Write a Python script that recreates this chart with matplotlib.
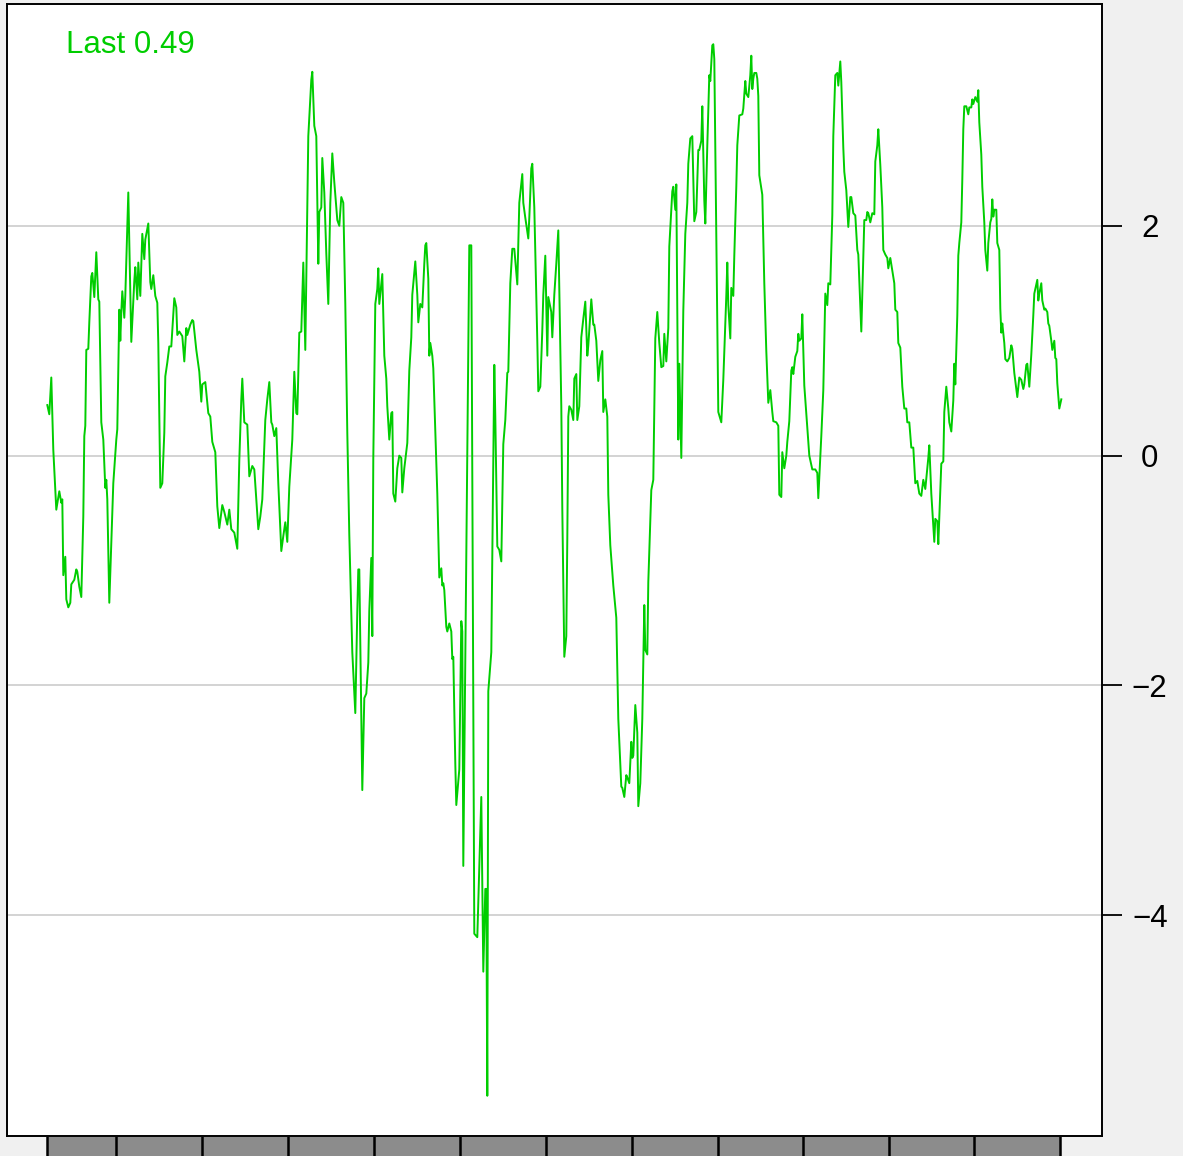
import matplotlib.pyplot as plt

# (step, value) pairs, in order
trace = [
    (0, 0.44), (2, 0.36), (4, 0.68), (6, 0.05), (9, -0.47), (12, -0.31), (14, -0.41), (15, -0.38),
    (16, -1.04), (18, -0.88), (19, -1.25), (21, -1.32), (23, -1.28), (24, -1.12), (27, -1.08),
    (29, -0.99), (30, -1.01), (32, -1.14), (34, -1.23), (36, -0.53), (37, 0.17), (38, 0.26),
    (39, 0.92), (41, 0.93), (42, 1.16), (44, 1.56), (45, 1.59), (47, 1.38), (49, 1.77), (51, 1.36),
    (52, 1.34), (54, 0.29), (56, 0.14), (58, -0.28), (59, -0.21), (60, -0.38), (62, -1.28),
    (66, -0.24), (69, 0.14), (70, 0.23), (72, 1.27), (73, 1.0), (74, 1.25), (75, 1.43), (77, 1.2),
    (78, 1.39), (81, 2.29), (84, 0.99), (87, 1.52), (88, 1.64), (90, 1.36), (91, 1.68), (93, 1.39),
    (95, 1.93), (97, 1.71), (98, 1.88), (101, 2.02), (103, 1.51), (104, 1.45), (106, 1.57),
    (108, 1.39), (110, 1.33), (111, 0.98), (113, -0.28), (115, -0.24), (117, 0.2), (118, 0.69),
    (120, 0.81), (122, 0.95), (124, 0.95), (127, 1.37), (129, 1.29), (130, 1.05), (132, 1.08),
    (135, 1.04), (137, 0.82), (139, 1.11), (140, 1.05), (143, 1.14), (145, 1.18), (146, 1.17),
    (149, 0.92), (152, 0.73), (154, 0.47), (155, 0.62), (158, 0.64), (161, 0.37), (163, 0.34),
    (165, 0.12), (168, 0.03), (170, -0.44), (172, -0.63), (175, -0.43), (177, -0.49), (180, -0.6),
    (182, -0.47), (184, -0.64), (187, -0.67), (190, -0.81), (192, -0.04), (194, 0.49), (195, 0.67),
    (197, 0.29), (200, 0.27), (202, -0.18), (205, -0.09), (207, -0.12), (209, -0.38), (211, -0.64),
    (213, -0.53), (215, -0.38), (218, 0.31), (220, 0.49), (222, 0.64), (224, 0.29), (225, 0.27),
    (227, 0.17), (229, 0.24), (231, -0.24), (234, -0.83), (236, -0.7), (238, -0.58), (240, -0.75),
    (242, -0.27), (245, 0.14), (247, 0.73), (249, 0.37), (250, 0.36), (252, 1.07), (254, 1.08),
    (256, 1.68), (258, 0.92), (261, 2.78), (264, 3.27), (265, 3.34), (267, 2.87), (269, 2.78),
    (271, 1.67), (272, 2.12), (274, 2.16), (275, 2.59), (277, 2.29), (279, 1.76), (281, 1.32),
    (283, 2.2), (285, 2.63), (287, 2.38), (290, 2.05), (292, 2.0), (294, 2.25), (296, 2.2),
    (298, 1.32), (300, 0.2), (302, -0.69), (305, -1.71), (308, -2.24), (310, -1.35), (311, -0.99),
    (312, -0.99), (315, -2.91), (317, -2.11), (319, -2.07), (321, -1.8), (322, -1.35), (324, -0.89),
    (325, -1.57), (326, -0.02), (328, 1.32), (330, 1.45), (331, 1.63), (332, 1.32), (334, 1.49),
    (335, 1.58), (337, 0.87), (339, 0.67), (340, 0.43), (342, 0.14), (344, 0.37), (345, 0.38),
    (346, -0.33), (348, -0.4), (350, -0.11), (352, 0.0), (354, -0.02), (355, -0.32), (357, -0.11),
    (360, 0.11), (362, 0.74), (364, 1.03), (365, 1.4), (368, 1.69), (370, 1.4), (371, 1.16),
    (373, 1.32), (375, 1.29), (377, 1.67), (378, 1.83), (379, 1.85), (381, 1.54), (382, 0.87),
    (383, 0.98), (385, 0.87), (386, 0.76), (388, 0.2), (390, -0.33), (392, -1.06), (394, -0.98),
    (395, -1.13), (396, -1.11), (397, -1.17), (399, -1.49), (400, -1.53), (402, -1.46), (404, -1.53),
    (405, -1.77), (406, -1.75), (408, -2.68), (409, -3.04), (412, -2.73), (414, -1.44), (415, -1.53),
    (416, -3.57), (422, 1.83), (424, 1.83), (427, -4.16), (430, -4.19), (434, -2.97), (436, -4.49),
    (438, -3.77), (439, -3.77), (440, -5.57), (441, -2.05), (444, -1.71), (447, 0.79), (448, 0.34),
    (450, -0.79), (452, -0.82), (454, -0.92), (456, 0.1), (458, 0.31), (460, 0.72), (461, 0.73),
    (463, 1.5), (465, 1.8), (467, 1.8), (470, 1.49), (472, 2.2), (475, 2.45), (476, 2.2), (478, 2.07),
    (481, 1.89), (482, 2.07), (484, 2.5), (485, 2.54), (487, 2.16), (490, 1.0), (491, 0.56),
    (493, 0.6), (495, 1.09), (496, 1.4), (498, 1.74), (500, 0.87), (501, 1.38), (504, 1.25),
    (505, 1.03), (507, 1.4), (509, 1.67), (511, 1.96), (512, 1.45), (514, 0.43), (515, -0.46),
    (517, -1.75), (519, -1.57), (520, -0.73), (521, 0.34), (522, 0.43), (524, 0.4), (526, 0.31),
    (527, 0.67), (529, 0.71), (530, 0.31), (532, 0.43), (534, 1.03), (536, 1.19), (538, 1.34),
    (540, 0.87), (541, 0.96), (544, 1.36), (546, 1.14), (547, 1.14), (549, 1.0), (551, 0.65),
    (553, 0.83), (555, 0.91), (556, 0.38), (558, 0.49), (560, 0.34), (561, -0.34), (563, -0.78),
    (566, -1.13), (569, -1.41), (571, -2.29), (574, -2.88), (575, -2.89), (577, -2.97), (579, -2.78),
    (580, -2.8), (582, -2.85), (584, -2.49), (585, -2.63), (586, -2.61), (588, -2.17), (590, -2.41),
    (591, -3.05), (593, -2.85), (595, -2.29), (597, -1.3), (598, -1.69), (600, -1.73), (601, -1.1),
    (604, -0.3), (606, -0.21), (608, 1.02), (610, 1.25), (612, 0.98), (614, 0.77), (616, 0.78),
    (617, 1.06), (619, 0.82), (621, 1.11), (622, 1.82), (625, 2.3), (626, 2.34), (628, 2.14),
    (629, 2.36), (631, 0.14), (632, 0.8), (634, -0.02), (636, 1.26), (638, 1.93), (640, 2.2),
    (641, 2.54), (643, 2.76), (645, 2.78), (647, 2.04), (649, 2.12), (651, 2.66), (652, 2.66),
    (654, 2.74), (655, 3.04), (657, 2.22), (658, 2.02), (660, 2.7), (662, 3.31), (663, 3.26),
    (665, 3.57), (666, 3.58), (667, 3.45), (671, 0.38), (674, 0.29), (676, 0.66), (679, 1.39),
    (680, 1.68), (681, 1.31), (683, 1.02), (684, 1.46), (686, 1.39), (687, 1.74), (689, 2.34),
    (690, 2.7), (692, 2.96), (695, 2.97), (696, 3.02), (698, 3.26), (699, 3.15), (701, 3.12),
    (703, 3.31), (704, 3.48), (705, 3.19), (706, 3.28), (707, 3.33), (709, 3.33), (710, 3.28),
    (711, 3.13), (712, 2.44), (715, 2.27), (717, 1.5), (719, 0.91), (721, 0.46), (723, 0.57),
    (725, 0.38), (726, 0.3), (729, 0.29), (731, 0.26), (732, -0.34), (734, -0.36), (735, 0.03),
    (737, -0.11), (739, 0.0), (740, 0.12), (742, 0.3), (744, 0.74), (745, 0.77), (746, 0.71),
    (748, 0.86), (750, 0.91), (751, 1.06), (752, 1.0), (754, 1.02), (755, 1.23), (757, 0.61),
    (759, 0.37), (762, 0.0), (765, -0.12), (768, -0.12), (770, -0.15), (771, -0.37), (774, 0.17),
    (776, 0.57), (778, 1.41), (780, 1.31), (781, 1.5), (783, 1.49), (785, 2.09), (786, 2.78),
    (788, 3.31), (790, 3.33), (791, 3.22), (793, 3.43), (794, 3.25), (796, 2.68), (797, 2.47),
    (799, 2.31), (801, 1.99), (803, 2.25), (804, 2.25), (806, 2.11), (808, 2.09), (810, 1.79),
    (811, 1.75), (814, 1.08), (816, 1.72), (817, 2.05), (819, 2.05), (820, 2.12), (821, 2.11),
    (823, 2.03), (825, 2.11), (827, 2.1), (828, 2.56), (830, 2.7), (831, 2.84), (833, 2.53),
    (835, 2.16), (836, 1.79), (838, 1.75), (840, 1.72), (841, 1.63), (843, 1.72), (845, 1.61),
    (847, 1.5), (848, 1.27), (850, 1.25), (851, 0.98), (853, 0.94), (855, 0.6), (857, 0.41),
    (859, 0.41), (860, 0.29), (862, 0.29), (864, 0.07), (866, 0.07), (868, -0.24), (870, -0.22),
    (872, -0.33), (874, -0.35), (876, -0.21), (878, -0.29), (880, -0.11), (881, -0.02), (882, 0.09),
    (884, -0.33), (886, -0.61), (887, -0.75), (888, -0.55), (890, -0.57), (891, -0.77), (893, -0.3),
    (894, -0.07), (896, -0.05), (897, 0.38), (899, 0.6), (901, 0.41), (902, 0.29), (904, 0.21),
    (906, 0.48), (907, 0.8), (908, 0.62), (910, 1.22), (911, 1.74), (912, 1.85), (914, 2.03),
    (915, 2.4), (916, 2.84), (917, 3.04), (919, 3.04), (921, 2.97), (922, 3.03), (924, 3.03),
    (925, 3.1), (926, 3.06), (928, 3.12), (930, 3.08), (931, 3.18), (932, 2.9), (934, 2.62),
    (935, 2.34), (937, 2.03), (938, 1.79), (940, 1.61), (941, 1.85), (943, 2.03), (944, 2.06),
    (945, 2.23), (946, 2.08), (947, 2.14), (949, 2.14), (950, 1.85), (952, 1.79), (953, 1.28),
    (954, 1.07), (955, 1.15), (957, 0.98), (958, 0.84), (960, 0.82), (962, 0.85), (964, 0.96),
    (965, 0.93), (967, 0.72), (970, 0.51), (972, 0.68), (974, 0.66), (976, 0.58), (977, 0.62),
    (979, 0.79), (980, 0.8), (982, 0.6), (984, 0.88), (986, 1.22), (987, 1.41), (990, 1.53),
    (991, 1.35), (992, 1.41), (994, 1.5), (995, 1.35), (997, 1.27), (998, 1.28), (1000, 1.25),
    (1001, 1.15), (1002, 1.13), (1004, 1.0), (1005, 0.92), (1007, 1.0), (1008, 0.85), (1009, 0.84),
    (1010, 0.63), (1012, 0.41), (1014, 0.49),
]
step = [p[0] for p in trace]
value = [p[1] for p in trace]

y_ticks = [-4, -2, 0, 2]
# period boundaries shown in the strip under the panel
month_breaks = [0, 69, 155, 241, 327, 413, 499, 585, 671, 756, 842, 927, 1013]

plt.rcParams['font.family'] = ['Liberation Sans', 'DejaVu Sans']

W, H = 1183, 1156
fig = plt.figure(figsize=(W / 100, H / 100), dpi=100, facecolor='#F0F0F0')

ax = fig.add_axes([7 / W, 1 - 1136 / H, 1095 / W, 1132 / H])
ax.set_facecolor('white')
ax.plot(step, value, color='#00CD00', lw=1.4)
ax.set_xlim(-40.3, 1054.7)
ax.set_ylim(-5.92, 3.93)

ax.set_yticks(y_ticks)
ax.yaxis.tick_right()
ax.tick_params(axis='y', length=14.4, width=1.3, labelsize=22.5, pad=20)
for lab in ax.get_yticklabels():
    lab.set_horizontalalignment('center')
ax.set_xticks([])
ax.grid(axis='y', color='#CCCCCC', lw=1.2)
ax.set_axisbelow(True)
for s in ax.spines.values():
    s.set_linewidth(1.4)

ax.text(0.054, 0.957, f"Last {value[-1]:.2f}", transform=ax.transAxes,
        color='#00CD00', fontsize=22.5, ha='left', va='baseline')

# strip below the panel
strip = fig.add_axes([7 / W, 0, 1095 / W, 19 / H])
strip.set_xlim(ax.get_xlim())
strip.set_ylim(0, 1)
strip.axvspan(month_breaks[0], month_breaks[-1], color='#8C8C8C', lw=0)
for b in month_breaks:
    strip.axvline(b, color='black', lw=1.8)
strip.axis('off')

fig.savefig('out.png', dpi=100, facecolor=fig.get_facecolor())
